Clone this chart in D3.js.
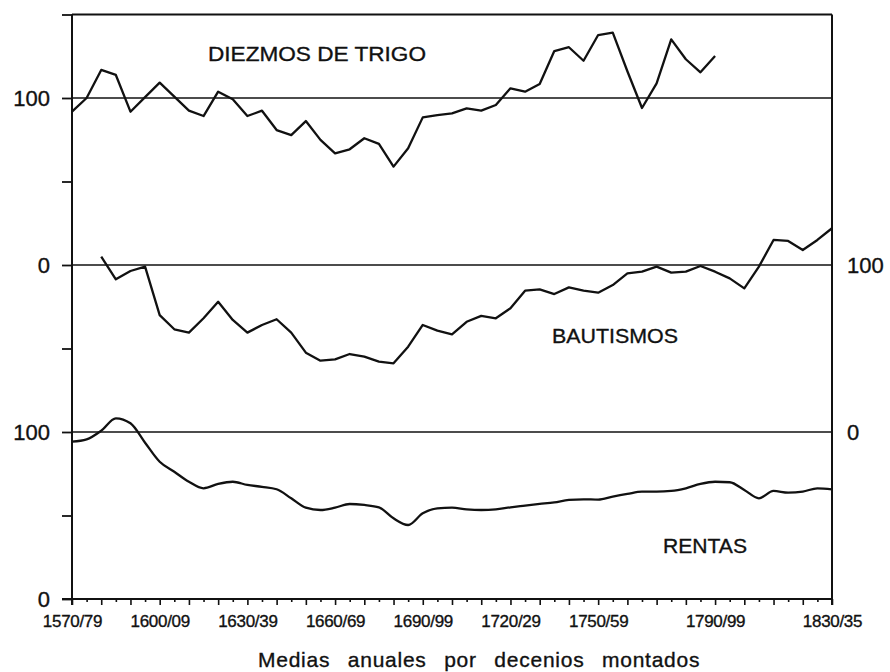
<!DOCTYPE html>
<html>
<head>
<meta charset="utf-8">
<script src="https://cdn.jsdelivr.net/npm/d3@7"></script>
<style>
  body { margin: 0; background: #fff; }
  svg { display: block; font-family: "Liberation Sans", Arial, Helvetica, sans-serif; }
</style>
</head>
<body>
<div id="chart"></div>
<script>
// moving decades, one point every 5 years
var years = [1570, 1575, 1580, 1585, 1590, 1595, 1600, 1605, 1610, 1615,
             1620, 1625, 1630, 1635, 1640, 1645, 1650, 1655, 1660, 1665,
             1670, 1675, 1680, 1685, 1690, 1695, 1700, 1705, 1710, 1715,
             1720, 1725, 1730, 1735, 1740, 1745, 1750, 1755, 1760, 1765,
             1770, 1775, 1780, 1785, 1790, 1795, 1800, 1805, 1810, 1815,
             1820, 1825, 1830];

var diezmos = [91.8, 100, 116.8, 113.8, 91.8, 100.5, 109.2, 100.8, 92.4, 89.2,
               103.8, 99.2, 89.2, 92.4, 80.8, 77.8, 86.2, 74.9, 66.9, 69.3,
               75.9, 72.5, 58.9, 69.9, 88.4, 89.8, 90.8, 93.8, 92.4, 95.8,
               105.8, 103.8, 108.4, 128.1, 130.4, 122.3, 137.7, 139.1, 116, 94,
               108.8, 135.1, 123.2, 115.4, 125.1, null, null, null, null, null,
               null, null, null];

var bautismos = [null, null, 105, 91.4, 96.4, 99, 70, 61.5, 59.5, 68.1,
                 78, 67.1, 59.5, 64.1, 67.5, 59.5, 47.5, 42.7, 43.5, 46.7,
                 45.1, 42.1, 41.1, 51.1, 64.1, 60.7, 58.5, 66, 69.5, 68.1,
                 74.1, 84.6, 85.4, 82.6, 86.6, 84.6, 83.4, 88, 95, 96,
                 99, 95.4, 96, 99.4, 96, 92, 86, 99, 115, 114.4,
                 109, 115, 122];

var rentas = [94.2, 95.6, 100.8, 108.2, 105.2, 93.6, 82.2, 76.2, 70.2, 66.3,
              68.9, 70.2, 68.3, 67.2, 65.7, 60.3, 54.7, 53.3, 54.7, 56.9,
              56.3, 54.9, 48.3, 44.3, 51.3, 54.3, 54.7, 53.7, 53.3, 53.7,
              54.9, 55.9, 56.9, 57.9, 59.3, 59.7, 59.5, 61.3, 62.9, 64.3,
              64.3, 64.7, 66.3, 68.9, 70.2, 69.9, 65.3, 60.3, 64.7, 63.7,
              64.3, 66.3, 65.7];

var labelYears = [1570, 1600, 1630, 1660, 1690, 1720, 1750, 1790, 1830];
var labelTexts = ["1570/79", "1600/09", "1630/39", "1660/69", "1690/99",
                  "1720/29", "1750/59", "1790/99", "1830/35"];

// left axis: three stacked panels on one scale
var leftTicks = [0, 50, 100, 150, 200, 250, 300, 350];
var leftLabels = {0: "0", 100: "100", 200: "0", 300: "100"};

var width = 890, height = 672;
var plotLeft = 72, plotRight = 832, plotTop = 14.5, plotBottom = 599;

var svg = d3.select("#chart")
    .append("svg")
    .attr("width", width)
    .attr("height", height);

var x = d3.scaleLinear().domain([1570, 1830]).range([plotLeft, plotRight]);

// whole stack, and one scale per panel
var yAll = d3.scaleLinear().domain([0, 350]).range([plotBottom, plotTop]);
var yR = d3.scaleLinear().domain([0, 100]).range([yAll(0), yAll(100)]);
var yB = d3.scaleLinear().domain([0, 100]).range([yAll(100), yAll(200)]);
var yD = d3.scaleLinear().domain([0, 150]).range([yAll(200), yAll(350)]);

var ink = "#111";

// a touch of stroke on the text, the print is heavy
function inkText(sel, size) {
    sel.attr("font-size", size)
        .attr("fill", ink)
        .attr("stroke", ink)
        .attr("stroke-width", 0.35)
        .attr("font-family", "Liberation Sans, Arial, sans-serif");
}

// reference lines across the plot
svg.selectAll("line.ref")
    .data([100, 200, 300, 350])
    .enter()
    .append("line")
    .attr("class", "ref")
    .attr("x1", plotLeft)
    .attr("x2", plotRight)
    .attr("y1", function(d) { return yAll(d); })
    .attr("y2", function(d) { return yAll(d); })
    .attr("stroke", ink)
    .attr("stroke-width", function(d) { return d == 350 ? 2 : 1.7; });

// left axis
var yAxis = d3.axisLeft(yAll)
    .tickValues(leftTicks)
    .tickSize(10)
    .tickPadding(12)
    .tickFormat(function(d) { return leftLabels[d] || ""; });

var gy = svg.append("g")
    .attr("transform", "translate(" + plotLeft + ",0)")
    .call(yAxis);
gy.select(".domain").remove();
gy.selectAll("line").attr("stroke", ink).attr("stroke-width", 1.8);
inkText(gy.selectAll("text"), "22px");

svg.append("line")
    .attr("x1", plotLeft).attr("x2", plotLeft)
    .attr("y1", plotTop).attr("y2", plotBottom + 6)
    .attr("stroke", ink).attr("stroke-width", 2);

// right axis (bautismos)
var yAxisR = d3.axisRight(yB)
    .tickValues([0, 100])
    .tickSize(0)
    .tickPadding(15);

var gr = svg.append("g")
    .attr("transform", "translate(" + plotRight + ",0)")
    .call(yAxisR);
gr.select(".domain").remove();
inkText(gr.selectAll("text"), "22px");

svg.append("line")
    .attr("x1", plotRight).attr("x2", plotRight)
    .attr("y1", plotTop).attr("y2", plotBottom + 6)
    .attr("stroke", ink).attr("stroke-width", 2);

// bottom axis, tick every 5 years, longer every 10
var xAxis = d3.axisBottom(x)
    .tickValues(years)
    .tickSize(6)
    .tickFormat(function(d) {
        var i = labelYears.indexOf(d);
        return i >= 0 ? labelTexts[i] : "";
    });

var gx = svg.append("g")
    .attr("transform", "translate(0," + plotBottom + ")")
    .call(xAxis);
gx.select(".domain").remove();
gx.selectAll("line")
    .attr("stroke", ink)
    .attr("stroke-width", 1.6)
    .attr("y2", function(d) { return d % 10 == 0 ? 6 : 3; });
gx.selectAll("text")
    .attr("y", 28)
    .attr("dy", null)
    .attr("letter-spacing", "-0.3px");
inkText(gx.selectAll("text"), "17px");

svg.append("line")
    .attr("x1", plotLeft - 10).attr("x2", plotRight)
    .attr("y1", plotBottom).attr("y2", plotBottom)
    .attr("stroke", ink).attr("stroke-width", 2);

// series
function drawSeries(values, yScale, curve) {
    var line = d3.line()
        .defined(function(d) { return d != null; })
        .x(function(d, i) { return x(years[i]); })
        .y(function(d) { return yScale(d); })
        .curve(curve);
    svg.append("path")
        .datum(values)
        .attr("fill", "none")
        .attr("stroke", ink)
        .attr("stroke-width", 2.3)
        .attr("stroke-linejoin", "round")
        .attr("d", line);
}

drawSeries(diezmos, yD, d3.curveLinear);
drawSeries(bautismos, yB, d3.curveLinear);
drawSeries(rentas, yR, d3.curveMonotoneX);

// series names
function seriesName(txt, x0, y0, len) {
    var t = svg.append("text")
        .attr("x", x0)
        .attr("y", y0)
        .attr("textLength", len)
        .attr("lengthAdjust", "spacingAndGlyphs")
        .text(txt);
    inkText(t, "21px");
}
seriesName("DIEZMOS DE TRIGO", 208, 61, 218);
seriesName("BAUTISMOS", 552, 343, 126);
seriesName("RENTAS", 663, 553, 84);

// x title
var title = svg.append("text")
    .attr("x", 258)
    .attr("y", 667)
    .attr("word-spacing", "11px")
    .attr("letter-spacing", "0.75px")
    .text("Medias anuales por decenios montados");
inkText(title, "21px");
</script>
</body>
</html>
